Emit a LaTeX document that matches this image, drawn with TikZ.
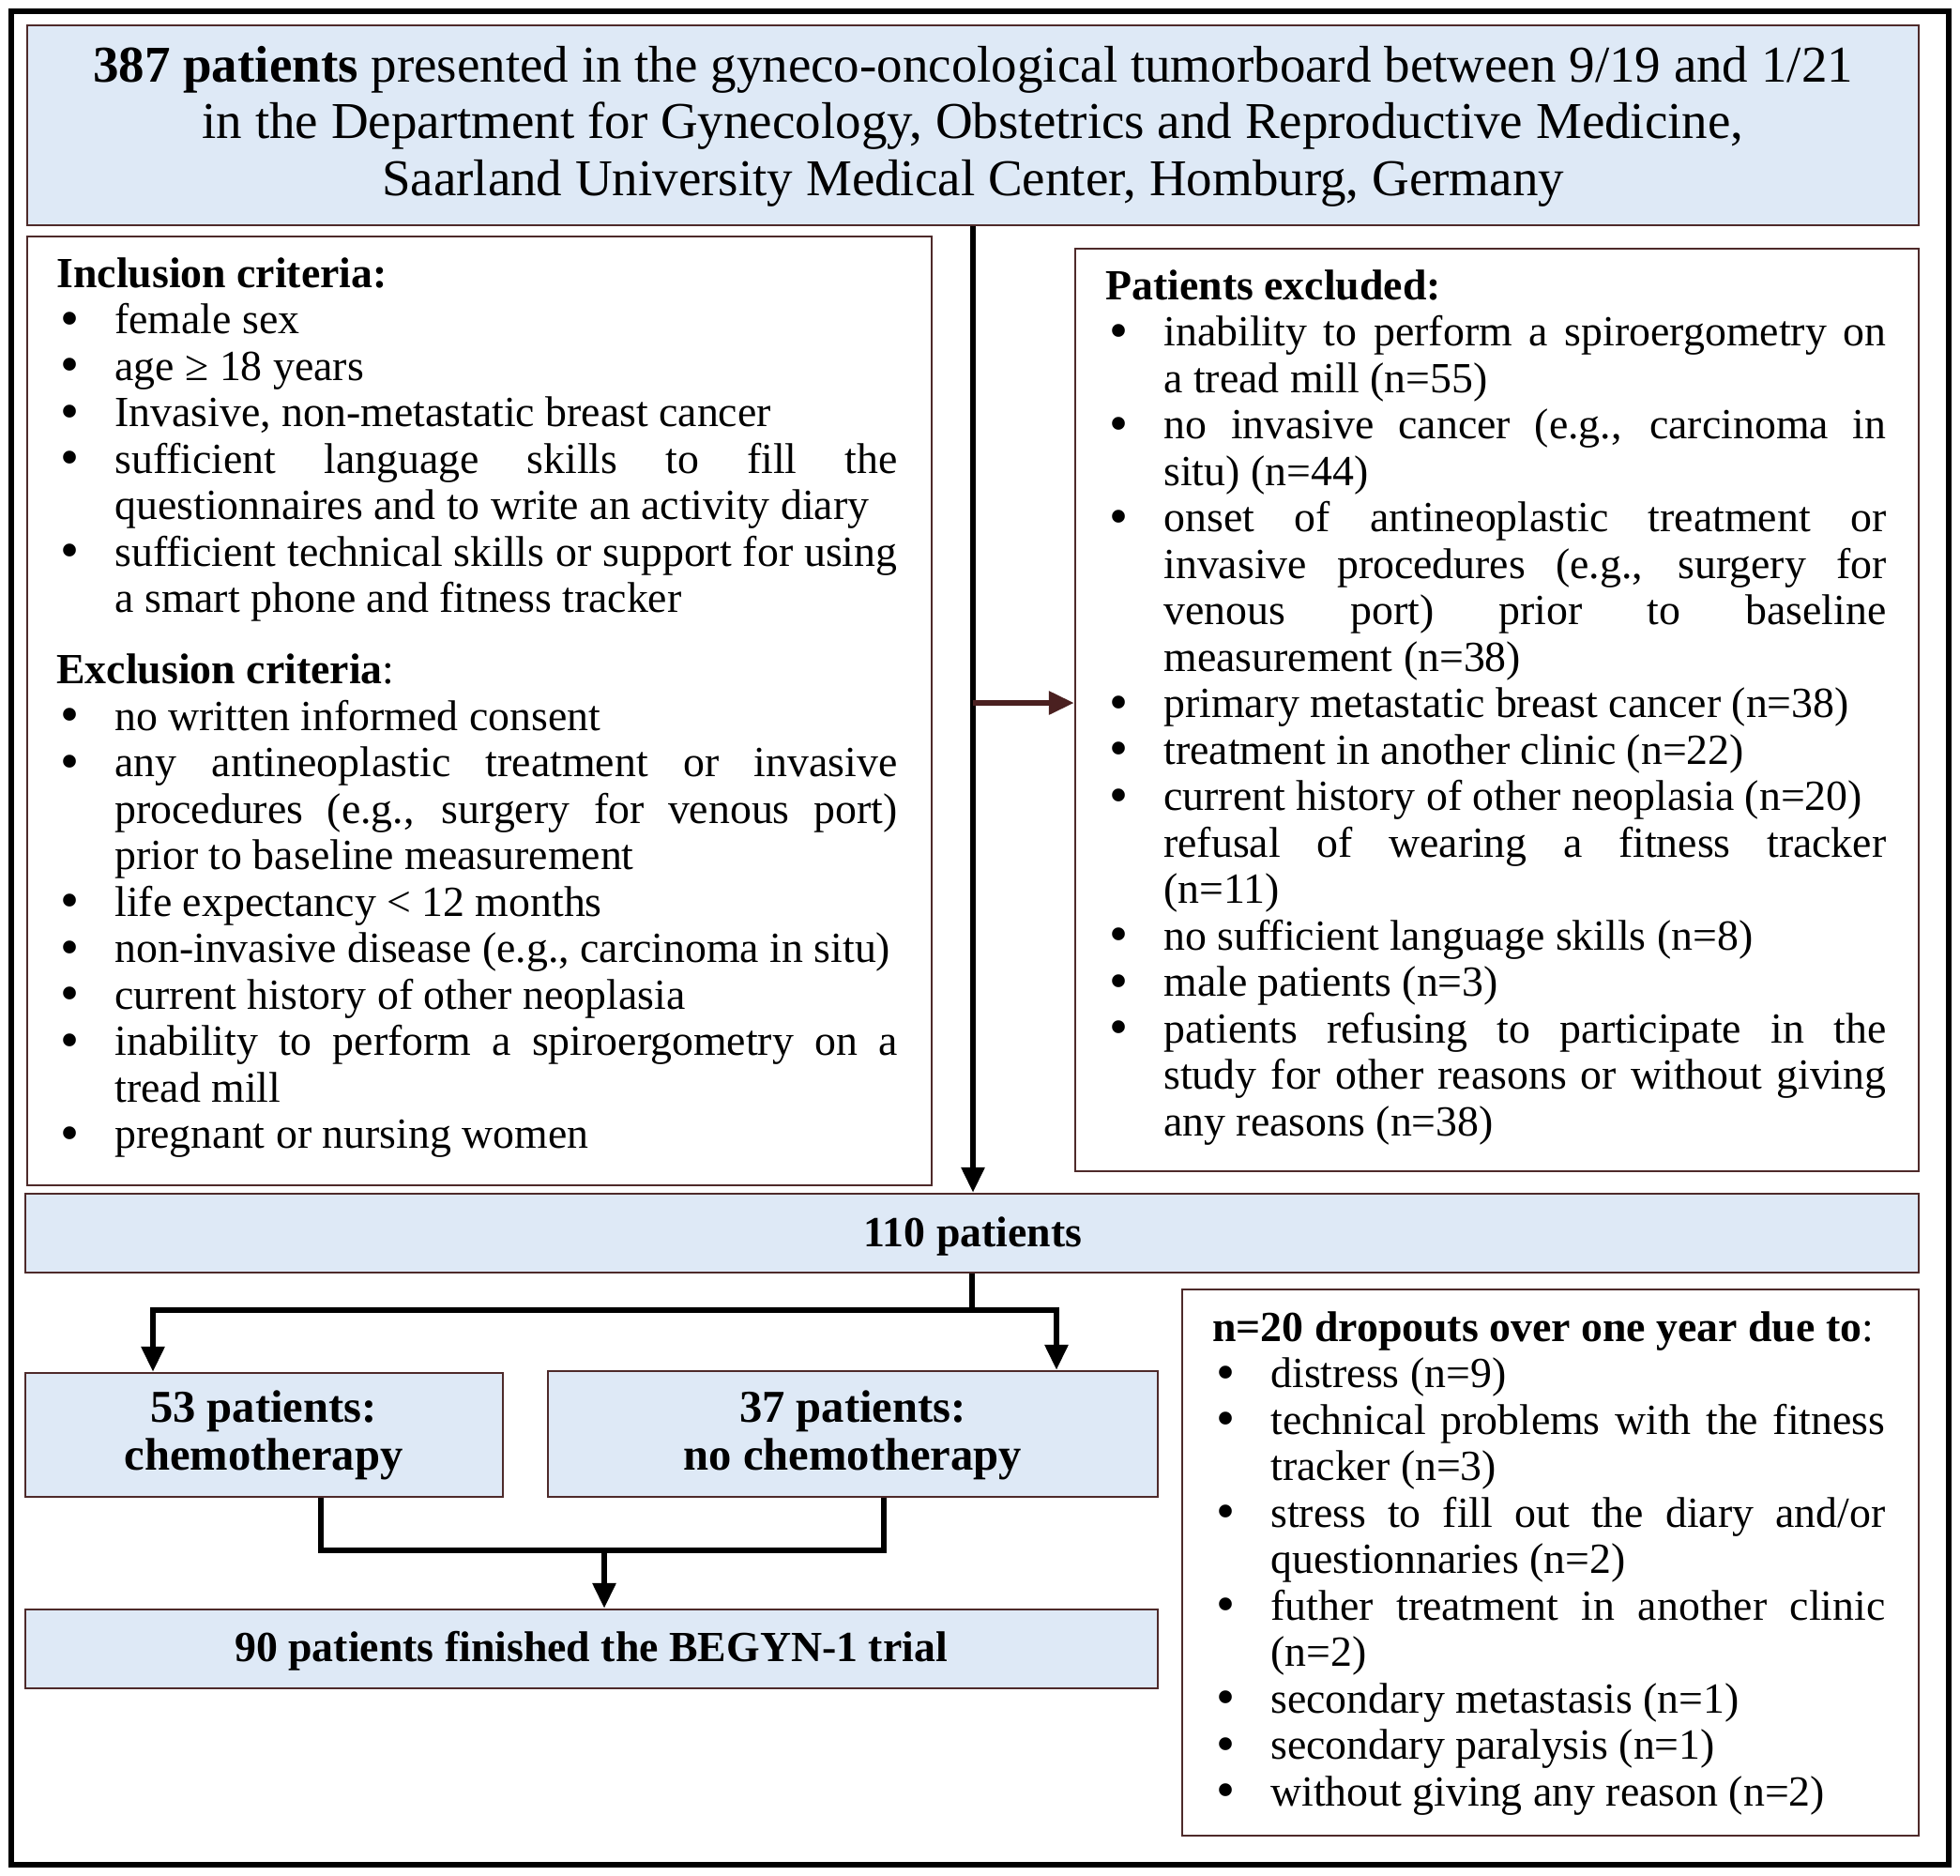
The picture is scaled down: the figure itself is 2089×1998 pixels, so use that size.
\documentclass[tikz,border=0pt]{standalone}
\usepackage{fontspec}
\setmainfont{Liberation Serif}
\usetikzlibrary{arrows.meta,fit}
\definecolor{boxfill}{HTML}{DEE9F6}
\definecolor{boxline}{HTML}{4E2A2A}
\definecolor{arrbrown}{HTML}{4A2020}
\newlength\bind \setlength\bind{31pt}
\newcommand\bul{\raisebox{-1.3pt}{\scalebox{1.25}{\textbullet}}}
\newcommand\hl[1]{\hbox{#1}}
\newcommand\bl[1]{\hbox{\makebox[\bind][l]{\hspace*{2pt}\bul}#1}}
\newcommand\bj[2]{\hbox{\makebox[\bind][l]{\hspace*{2pt}\bul}\makebox[#1][s]{#2}}}
\newcommand\cl[1]{\hbox{\hspace*{\bind}#1}}
\newcommand\cj[2]{\hbox{\hspace*{\bind}\makebox[#1][s]{#2}}}
\newcommand\ctr[2]{\hbox to #1{\hfil#2\hfil}}
\newcommand\mylines[2]{\vtop{\baselineskip=#1\lineskiplimit=-\maxdimen\lineskip=0pt #2}}
\newcommand\bodyfont{\fontsize{22.9pt}{24.75pt}\selectfont}
\newcommand\topfont{\fontsize{27.5pt}{30.3pt}\selectfont}
\newcommand\midfont{\fontsize{24.3pt}{25.5pt}\selectfont}
\tikzset{
  bluebox/.style={draw=boxline, line width=1.2pt, fill=boxfill, inner sep=0pt},
  whitebox/.style={draw=boxline, line width=1.2pt, fill=white, inner sep=0pt},
  txt/.style={inner sep=0pt, anchor=base west, font=\bodyfont},
  ctxt/.style={inner sep=0pt, anchor=base, font=\bodyfont},
  conn/.style={line width=3pt, black, line join=miter},
  arrk/.style={conn, -{Triangle[length=13.5pt,width=12pt]}},
  arrb/.style={line width=3pt, arrbrown, -{Triangle[length=13.5pt,width=12pt]}},
}
\begin{document}
\begin{tikzpicture}[x=0.5pt,y=-0.5pt]
\useasboundingbox (0,0) rectangle (2089,1998);
\draw[line width=3pt] (12,12) rectangle (2077,1987);

% boxes
\node[bluebox, fit={(29,27) (2045,240)}] (top) {};
\node[whitebox, fit={(29,252) (993,1263)}] (inc) {};
\node[whitebox, fit={(1146,265) (2045,1248)}] (exc) {};
\node[bluebox, fit={(27,1272) (2045,1356)}] (p110) {};
\node[bluebox, fit={(27,1463) (536,1595)}] (c53) {};
\node[bluebox, fit={(584,1461) (1234,1595)}] (c37) {};
\node[bluebox, fit={(27,1715) (1234,1799)}] (p90) {};
\node[whitebox, fit={(1260,1374) (2045,1956)}] (drop) {};

% texts
\node[ctxt, font=\topfont] (toptxt) at (1037,87) {\mylines{30.3pt}{%
\ctr{1000pt}{\textbf{387 patients} presented in the gyneco-oncological tumorboard between 9/19 and 1/21}
\ctr{1000pt}{in the Department for Gynecology, Obstetrics and Reproductive Medicine,}
\ctr{1000pt}{Saarland University Medical Center, Homburg, Germany}}};

\node[txt] (inctxt) at (60,306) {\mylines{24.75pt}{%
\hl{\textbf{Inclusion criteria:}}
\bl{female sex}
\bl{age ≥ 18 years}
\bl{Invasive, non-metastatic breast cancer}
\bj{417pt}{sufficient language skills to fill the}
\cl{questionnaires and to write an activity diary}
\bj{417pt}{sufficient technical skills or support for using}
\cl{a smart phone and fitness tracker}
\vskip 13.4pt
\hl{\textbf{Exclusion criteria}:}
\bl{no written informed consent}
\bj{417pt}{any antineoplastic treatment or invasive}
\cj{417pt}{procedures (e.g., surgery for venous port)}
\cl{prior to baseline measurement}
\bl{life expectancy < 12 months}
\bl{non-invasive disease (e.g., carcinoma in situ)}
\bl{current history of other neoplasia}
\bj{417pt}{inability to perform a spiroergometry on a}
\cl{tread mill}
\bl{pregnant or nursing women}}};

\node[txt] (exctxt) at (1178,319) {\mylines{24.75pt}{%
\hl{\textbf{Patients excluded:}}
\bj{385pt}{inability to perform a spiroergometry on}
\cl{a tread mill (n=55)}
\bj{385pt}{no invasive cancer (e.g., carcinoma in}
\cl{situ) (n=44)}
\bj{385pt}{onset of antineoplastic treatment or}
\cj{385pt}{invasive procedures (e.g., surgery for}
\cj{385pt}{venous port) prior to baseline}
\cl{measurement (n=38)}
\bl{primary metastatic breast cancer (n=38)}
\bl{treatment in another clinic (n=22)}
\bl{current history of other neoplasia (n=20)}
\cj{385pt}{refusal of wearing a fitness tracker}
\cl{(n=11)}
\bl{no sufficient language skills (n=8)}
\bl{male patients (n=3)}
\bj{385pt}{patients refusing to participate in the}
\cj{385pt}{study for other reasons or without giving}
\cl{any reasons (n=38)}}};

\node[txt] (droptxt) at (1292,1429) {\mylines{24.75pt}{%
\hl{\textbf{n=20 dropouts over one year due to}:}
\bl{distress (n=9)}
\bj{327.5pt}{technical problems with the fitness}
\cl{tracker (n=3)}
\bj{327.5pt}{stress to fill out the diary and/or}
\cl{questionnaries (n=2)}
\bj{327.5pt}{futher treatment in another clinic}
\cl{(n=2)}
\bl{secondary metastasis (n=1)}
\bl{secondary paralysis (n=1)}
\bl{without giving any reason (n=2)}}};

\node[ctxt] (t110) at (1037,1328) {\textbf{110 patients}};
\node[ctxt, font=\midfont] (t53) at (281,1515) {\mylines{25.5pt}{\ctr{240pt}{\textbf{53 patients:}}\ctr{240pt}{\textbf{chemotherapy}}}};
\node[ctxt, font=\midfont] (t37) at (909,1515) {\mylines{25.5pt}{\ctr{300pt}{\textbf{37 patients:}}\ctr{300pt}{\textbf{no chemotherapy}}}};
\node[ctxt] (t90) at (630,1770) {\textbf{90 patients finished the BEGYN-1 trial}};

% connectors
\draw[arrk] (top.south) -- (top.south |- p110.north);
\coordinate (br) at (1037,749);
\draw[arrb] (br) -- (br -| exc.west);
\coordinate (aL) at (163,1396);
\coordinate (aR) at (1126,1396);
\draw[arrk] (p110.south) -- (p110.south |- aL) -- (aL) -- (aL |- c53.north);
\draw[arrk] (p110.south |- aR) -- (aR) -- (aR |- c37.north);
\coordinate (mL) at (342,1652);
\coordinate (mR) at (942,1652);
\coordinate (mM) at (644,1652);
\draw[conn] (mL |- c53.south) -- (mL) -- (mR) -- (mR |- c37.south);
\draw[arrk] (mM) -- (mM |- p90.north);
\end{tikzpicture}
\end{document}
